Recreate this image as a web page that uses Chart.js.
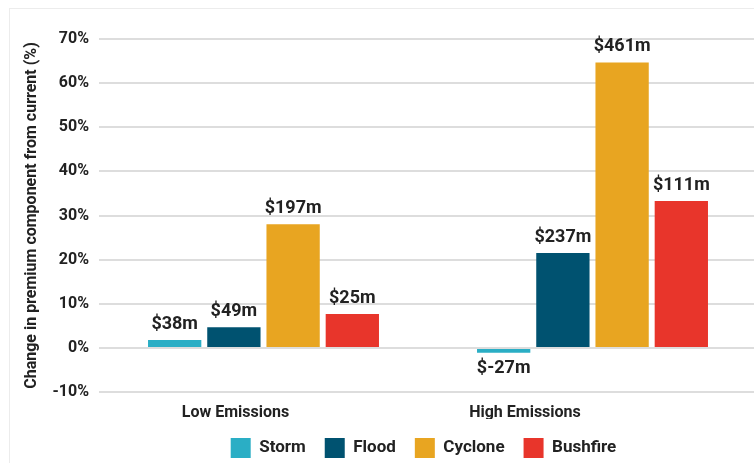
<!DOCTYPE html>
<html>
<head>
<meta charset="utf-8">
<script src="https://cdn.jsdelivr.net/npm/chart.js@4.4.1/dist/chart.umd.min.js"></script>
<style>
  html, body { margin: 0; padding: 0; background: #ffffff; overflow: hidden; width: 754px; height: 463px; }
  #card { position: absolute; left: 9px; top: 8px; width: 2000px; height: 2000px; border-left: 1px solid #ececec; border-top: 1px solid #ececec; }
  #wrap { position: absolute; left: 0; top: 0; width: 847px; height: 468px; }
</style>
</head>
<body>
<div id="card"></div>
<div id="wrap"><canvas id="c" width="847" height="468"></canvas></div>
<script>
const categories = ['Low Emissions', 'High Emissions'];
const seriesNames = ['Storm', 'Flood', 'Cyclone', 'Bushfire'];
const stormValues = [1.8, -1.1];
const floodValues = [4.7, 21.5];
const cycloneValues = [28.0, 64.7];
const bushfireValues = [7.7, 33.3];
const stormLabels = ['$38m', '$-27m'];
const floodLabels = ['$49m', '$237m'];
const cycloneLabels = ['$197m', '$461m'];
const bushfireLabels = ['$25m', '$111m'];
const yMin = -10, yMax = 70, yStep = 10;
const yTitle = 'Change in premium component from current (%)';

const colors = ['#2aaec5', '#005270', '#e8a521', '#e8352b'];
const FONT = 'Roboto, "Liberation Sans", sans-serif';
const TEXT = '#222222';

const valueSets = [stormValues, floodValues, cycloneValues, bushfireValues];
const labelSets = [stormLabels, floodLabels, cycloneLabels, bushfireLabels];

const dataLabelPlugin = {
  id: 'dataLabels',
  afterDatasetsDraw(chart) {
    const ctx = chart.ctx;
    ctx.save();
    ctx.font = 'bold 18px ' + FONT;
    ctx.fillStyle = TEXT;
    ctx.textAlign = 'center';
    ctx.textBaseline = 'middle';
    chart.data.datasets.forEach((ds, di) => {
      const meta = chart.getDatasetMeta(di);
      meta.data.forEach((bar, i) => {
        const v = ds.data[i];
        const txt = labelSets[di][i];
        const y = v >= 0 ? bar.y - 15.5 : bar.y + 16;
        ctx.fillText(txt, bar.x, y);
      });
    });
    ctx.restore();
  }
};

new Chart(document.getElementById('c'), {
  type: 'bar',
  data: {
    labels: categories,
    datasets: seriesNames.map((n, i) => ({
      label: n,
      data: valueSets[i],
      backgroundColor: colors[i],
      borderWidth: 0,
      barPercentage: 0.9,
      categoryPercentage: 0.72,
      xAxisID: 'x',
      yAxisID: 'y'
    }))
  },
  options: {
    responsive: false,
    animation: false,
    devicePixelRatio: 1,
    layout: { padding: { top: 39, left: 0, right: 0, bottom: 0 } },
    plugins: {
      tooltip: { enabled: false },
      legend: {
        position: 'bottom',
        labels: {
          boxWidth: 20,
          boxHeight: 20,
          padding: 19,
          color: TEXT,
          font: { family: FONT, size: 17, weight: 'bold' }
        }
      }
    },
    scales: {
      x: {
        type: 'category',
        display: false,
        offset: true
      },
      xl: {
        type: 'linear',
        position: 'bottom',
        offset: false,
        min: -0.4715,
        max: 1.8014,
        grid: { display: false, drawTicks: false, offset: false },
        border: { display: false },
        afterBuildTicks: (s) => { s.ticks = categories.map((c, i) => ({ value: i })); },
        afterFit: (s) => { s.height = 27; },
        ticks: {
          padding: 11,
          autoSkip: true,
          maxRotation: 0,
          color: TEXT,
          font: { family: FONT, size: 16, weight: 'bold' },
          callback: (v) => categories[v] !== undefined ? categories[v] : ''
        }
      },
      y: {
        position: 'left',
        min: yMin,
        max: yMax,
        afterFit: (s) => { s.width = 99; },
        ticks: {
          stepSize: yStep,
          padding: 10,
          color: TEXT,
          font: { family: FONT, size: 16, weight: 'bold' },
          callback: (v) => v + '%'
        },
        grid: { color: '#dddddd', lineWidth: 2, drawTicks: false },
        border: { display: false },
        title: {
          display: true,
          text: yTitle,
          color: TEXT,
          padding: { top: 22, bottom: 0 },
          font: { family: FONT, size: 16, weight: 'bold' }
        }
      },
      yr: {
        type: 'linear',
        position: 'right',
        display: true,
        afterFit: (s) => { s.width = 90; },
        ticks: { display: false },
        grid: { display: false, drawTicks: false },
        border: { display: false }
      }
    }
  },
  plugins: [dataLabelPlugin]
});
</script>
</body>
</html>
